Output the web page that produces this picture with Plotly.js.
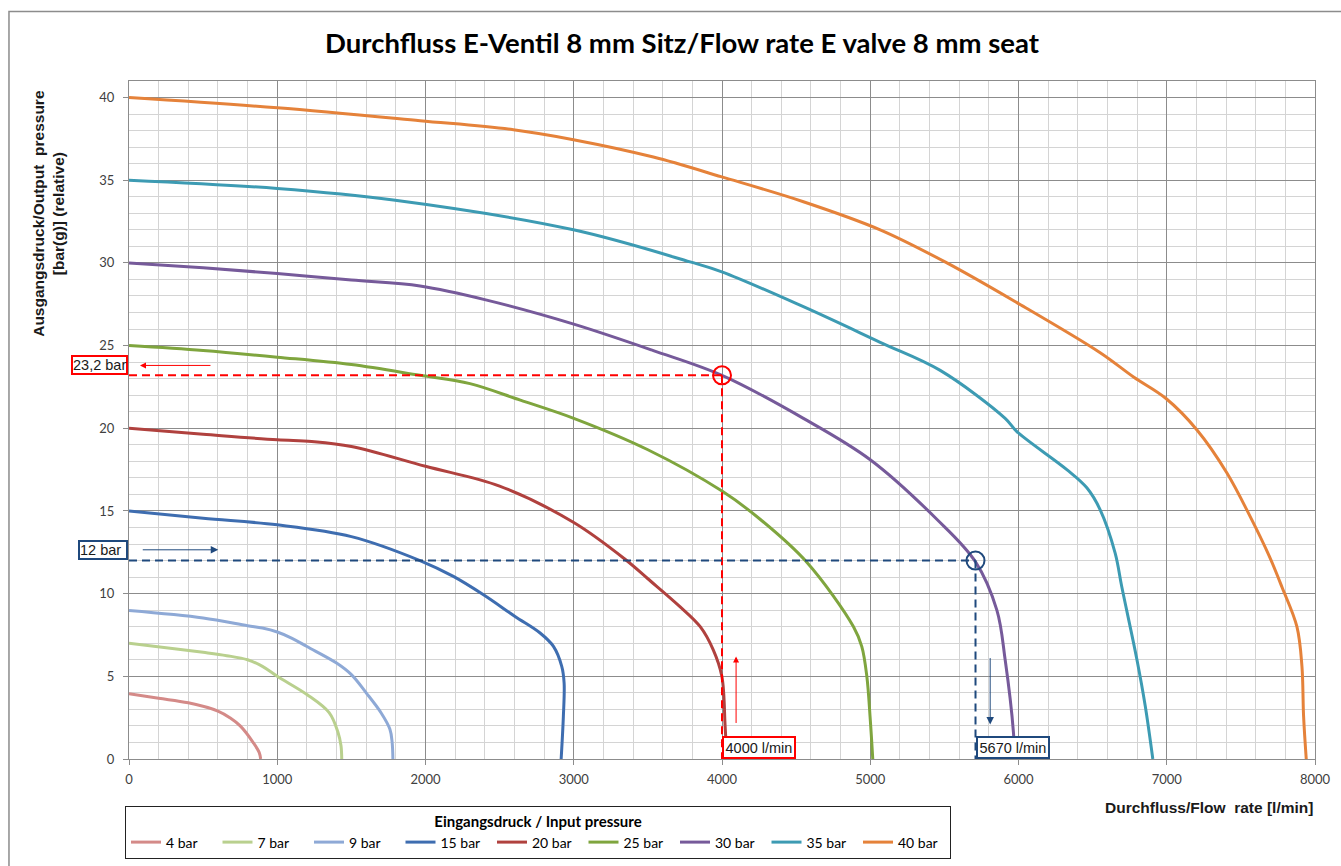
<!DOCTYPE html>
<html>
<head>
<meta charset="utf-8">
<script src="https://cdn.plot.ly/plotly-3.0.1.min.js"></script>
<style>html,body{margin:0;padding:0;background:#fff;}#chart{width:1341px;height:866px;}</style>
</head>
<body>
<div id="chart"></div>
<script>
// ---- data ----
const seriesNames = ['4 bar','7 bar','9 bar','15 bar','20 bar','25 bar','30 bar','35 bar','40 bar'];
const seriesColors = ['#D48A88','#B9D08E','#8EA9D6','#3E6DB0','#B0413E','#7FA53E','#765A9A','#3D9BB3','#E5823A'];

const p4_x = [0, 200, 400, 600, 681, 750, 839, 878, 888];
const p4_y = [3.94, 3.67, 3.4, 2.9, 2.49, 2.0, 0.98, 0.4, 0];

const p7_x = [0, 500, 659, 800, 900, 1000, 1200, 1350, 1410, 1430, 1435];
const p7_y = [7.0, 6.45, 6.25, 6.0, 5.6, 5.0, 3.9, 2.8, 1.6, 0.8, 0];

const p9_x = [0, 500, 800, 900, 1000, 1100, 1200, 1400, 1500, 1600, 1700, 1760, 1775, 1780];
const p9_y = [8.98, 8.53, 8.06, 7.92, 7.68, 7.3, 6.8, 5.8, 5.1, 4.0, 2.8, 1.8, 1.0, 0];

const p15_x = [0, 500, 1000, 1500, 1963, 2188, 2391, 2604, 2773, 2863, 2919, 2935, 2930, 2915];
const p15_y = [15, 14.56, 14.16, 13.45, 12.0, 11.04, 9.93, 8.62, 7.62, 6.81, 5.6, 4.6, 2.58, 0];

const p20_x = [0, 500, 1000, 1232, 1500, 2000, 2500, 3000, 3350, 3500, 3718, 3853, 3941, 3999, 4021, 4032];
const p20_y = [20, 19.64, 19.3, 19.2, 18.9, 17.7, 16.5, 14.3, 12.05, 10.9, 9.2, 8.0, 6.6, 5.0, 2.0, 0];

const p25_x = [0, 500, 1000, 1500, 1963, 2300, 2640, 3000, 3500, 4000, 4257, 4572, 4887, 4943, 4977, 5000, 5017];
const p25_y = [25, 24.7, 24.3, 23.85, 23.2, 22.7, 21.7, 20.6, 18.7, 16.2, 14.5, 11.9, 8.0, 6.8, 5.0, 2.4, 0];

const p30_x = [0, 500, 1000, 1500, 1963, 2413, 3000, 3537, 4000, 4549, 5000, 5449, 5708, 5854, 5910, 5966, 5973];
const p30_y = [30, 29.7, 29.36, 28.96, 28.6, 27.75, 26.3, 24.7, 23.2, 20.6, 18.1, 14.5, 11.95, 9.0, 6.0, 1.6, 0];

const p35_x = [0, 1000, 1783, 2998, 3785, 3999, 4549, 5067, 5472, 5910, 5989, 6326, 6461, 6551, 6652, 6697, 6799, 6855, 6906];
const p35_y = [35, 34.5, 33.8, 32.0, 30.06, 29.46, 27.35, 25.2, 23.5, 20.6, 19.8, 17.5, 16.4, 15.07, 12.45, 10.4, 6.0, 3.2, 0];

const p40_x = [0, 1000, 1963, 2593, 2998, 3537, 3999, 4549, 5067, 5517, 5989, 6551, 6776, 6995, 7204, 7406, 7563, 7690, 7777, 7878, 7912, 7923, 7941];
const p40_y = [40, 39.38, 38.6, 38.05, 37.45, 36.4, 35.2, 33.7, 32.0, 30.0, 27.6, 24.57, 23.1, 21.8, 19.9, 17.3, 14.66, 12.3, 10.4, 8.0, 5.6, 2.6, 0];

// highlighted reading points: [flow, pressure]
const markFlow = [4000, 5710];
const markPressure = [23.2, 12];
const markPressureLabels = ['23,2 bar', '12 bar'];
const markFlowLabels = ['4000 l/min', '5670 l/min'];
const markColors = ['#FF0000', '#1F497D'];

const xTitle = 'Durchfluss/Flow  rate [l/min]';
const yTitle = 'Ausgangsdruck/Output  pressure<br>[bar(g)] (relative)';
const chartTitle = 'Durchfluss E-Ventil 8 mm Sitz/Flow rate E valve 8 mm seat';
const legendTitle = 'Eingangsdruck / Input pressure';

// ---- traces ----
const xs = [p4_x, p7_x, p9_x, p15_x, p20_x, p25_x, p30_x, p35_x, p40_x];
const ys = [p4_y, p7_y, p9_y, p15_y, p20_y, p25_y, p30_y, p35_y, p40_y];
const traces = seriesNames.map((n, i) => ({
  x: xs[i], y: ys[i], name: n, type: 'scatter', mode: 'lines',
  line: {color: seriesColors[i], width: 3, shape: 'spline', smoothing: 1.0},
  hoverinfo: 'skip'
}));

// ---- shapes ----
const shapes = [];
markFlow.forEach((fx, i) => {
  const py = markPressure[i], c = markColors[i];
  shapes.push({type: 'line', xref: 'x', yref: 'y', x0: 0, x1: fx, y0: py, y1: py,
    line: {color: c, width: 2, dash: '8px,5px'}});
  shapes.push({type: 'line', xref: 'x', yref: 'y', x0: fx, x1: fx, y0: py, y1: 0,
    line: {color: c, width: 2, dash: '8px,5px'}});
  shapes.push({type: 'circle', xref: 'x', yref: 'y', xsizemode: 'pixel', ysizemode: 'pixel',
    xanchor: fx, yanchor: py, x0: -9, x1: 9, y0: -9, y1: 9,
    line: {color: c, width: 2}, fillcolor: 'rgba(0,0,0,0)'});
});
// outer chart frame
shapes.push({type: 'rect', xref: 'paper', yref: 'paper', x0: -0.1012, x1: 1.06, y0: -0.25, y1: 1.1024,
  line: {color: '#8c8c8c', width: 1.5}, fillcolor: 'rgba(0,0,0,0)', layer: 'below'});

// ---- annotations ----
const boxFont = {family: 'Liberation Sans, Arial, sans-serif', size: 14.5, color: '#1a1a1a'};
const annotations = [
  // y-value boxes
  {xref: 'paper', yref: 'y', x: -0.001, y: markPressure[0] + 0.6, xanchor: 'right', yanchor: 'middle',
   text: markPressureLabels[0], showarrow: false, font: boxFont, bgcolor: '#fff',
   bordercolor: markColors[0], borderwidth: 2, borderpad: 0},
  {xref: 'paper', yref: 'y', x: -0.001, y: markPressure[1] + 0.62, xanchor: 'right', yanchor: 'middle',
   text: markPressureLabels[1], showarrow: false, font: boxFont, bgcolor: '#fff', width: 46, align: 'left',
   bordercolor: markColors[1], borderwidth: 2, borderpad: 0},
  // x-value boxes
  {xref: 'x', yref: 'y', x: markFlow[0], y: 0, xanchor: 'left', yanchor: 'bottom',
   text: markFlowLabels[0], showarrow: false, font: boxFont, bgcolor: '#fff',
   bordercolor: markColors[0], borderwidth: 2, borderpad: 1.5},
  {xref: 'x', yref: 'y', x: markFlow[1], y: 0, xanchor: 'left', yanchor: 'bottom',
   text: markFlowLabels[1], showarrow: false, font: boxFont, bgcolor: '#fff',
   bordercolor: markColors[1], borderwidth: 2, borderpad: 1.5},
  // arrows
  {xref: 'x', yref: 'y', x: 74, y: markPressure[0] + 0.6, ax: 72, ay: 0, text: '', showarrow: true,
   arrowhead: 2, arrowsize: 1.2, arrowwidth: 1, arrowcolor: markColors[0]},
  {xref: 'x', yref: 'y', x: 602, y: markPressure[1] + 0.65, ax: -77, ay: 0, text: '', showarrow: true,
   arrowhead: 2, arrowsize: 1.5, arrowwidth: 1, arrowcolor: markColors[1]},
  {xref: 'x', yref: 'y', x: 4095, y: 6.2, ax: 0, ay: 68, text: '', showarrow: true,
   arrowhead: 2, arrowsize: 1.2, arrowwidth: 1, arrowcolor: markColors[0]},
  {xref: 'x', yref: 'y', x: 5809, y: 2.08, ax: 0, ay: -68, text: '', showarrow: true,
   arrowhead: 2, arrowsize: 1.5, arrowwidth: 1, arrowcolor: markColors[1]},
  // axis titles
  {xref: 'paper', yref: 'paper', x: 1.0, y: -0.0715, xanchor: 'right', yanchor: 'middle',
   text: '<b>' + xTitle + '</b>', showarrow: false,
   font: {family: 'Liberation Sans, Arial, sans-serif', size: 15.5, color: '#1a1a1a'}},
  {xref: 'paper', yref: 'paper', x: -0.0675, y: 0.8055, xanchor: 'center', yanchor: 'middle',
   textangle: -90, text: '<b>' + yTitle + '</b>', showarrow: false,
   font: {family: 'Liberation Sans, Arial, sans-serif', size: 15.5, color: '#1a1a1a'}}
];

const tickFont = {family: 'Lato, sans-serif', size: 13, color: '#404040'};
const layout = {
  width: 1341, height: 866,
  margin: {l: 129, r: 26, t: 81, b: 106.5, pad: 0},
  paper_bgcolor: '#fff', plot_bgcolor: '#fff',
  title: {text: '<b>' + chartTitle + '</b>', xref: 'container', x: 0.5086, y: 0.950, yanchor: 'middle',
    font: {family: 'Lato, sans-serif', size: 27.5, color: '#000'}},
  showlegend: true,
  legend: {orientation: 'h', xref: 'container', yref: 'container', x: 125 / 1341, y: 1 - 806 / 866,
    xanchor: 'left', yanchor: 'top',
    entrywidth: 46.5, entrywidthmode: 'pixels', itemwidth: 30, bordercolor: '#222', borderwidth: 1, bgcolor: '#fff',
    font: {family: 'Lato, sans-serif', size: 14, color: '#000'},
    title: {text: '<b>' + legendTitle + '</b>', side: 'top center',
      font: {family: 'Lato, sans-serif', size: 15, color: '#000'}}},
  xaxis: {range: [0, 8000], dtick: 1000, tick0: 0, showgrid: true, gridcolor: '#8c8c8c', gridwidth: 1,
    minor: {dtick: 200, showgrid: true, gridcolor: '#d4d4d4', gridwidth: 1},
    showline: true, linecolor: '#8c8c8c', linewidth: 1, mirror: true,
    ticks: 'outside', ticklen: 5, tickcolor: '#8c8c8c', tickfont: tickFont, ticklabelstandoff: 3,
    zeroline: false, fixedrange: true},
  yaxis: {range: [0, 41], dtick: 5, tick0: 0, showgrid: true, gridcolor: '#8c8c8c', gridwidth: 1,
    minor: {dtick: 1, showgrid: true, gridcolor: '#d4d4d4', gridwidth: 1},
    showline: true, linecolor: '#8c8c8c', linewidth: 1, mirror: true,
    ticks: 'outside', ticklen: 5, tickcolor: '#8c8c8c', tickfont: tickFont, ticklabelstandoff: 6,
    zeroline: false, fixedrange: true},
  shapes: shapes,
  annotations: annotations
};

Plotly.newPlot('chart', traces, layout, {displayModeBar: false, staticPlot: true});
</script>
</body>
</html>
